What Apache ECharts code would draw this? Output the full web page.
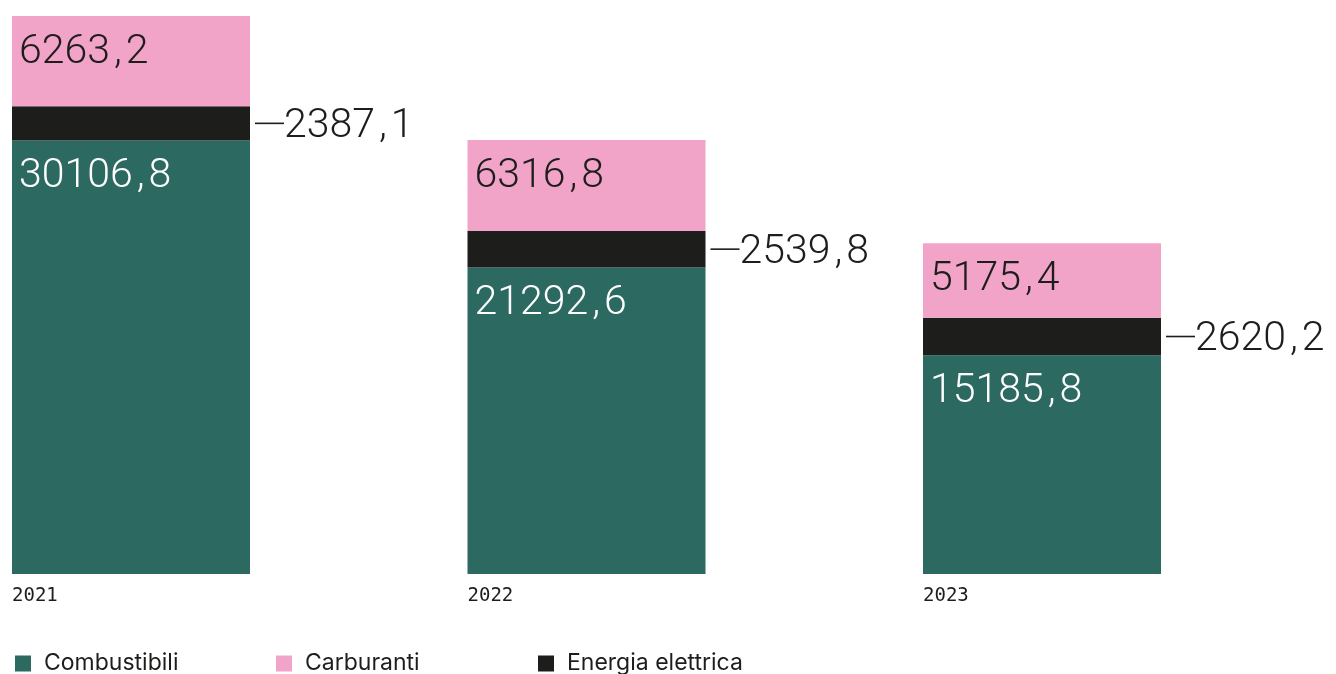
<!DOCTYPE html>
<html>
<head>
<meta charset="utf-8">
<style>
  html, body { margin: 0; padding: 0; background: #ffffff; }
  #chart { width: 1336px; height: 674px; }
</style>
<script src="https://cdn.jsdelivr.net/npm/echarts@6/dist/echarts.min.js"></script>
</head>
<body>
<div id="chart"></div>
<script>
// Consumi energetici per anno (valori impilati)
const years = ['2021', '2022', '2023'];
const combustibili = [30106.8, 21292.6, 15185.8];
const energiaElettrica = [2387.1, 2539.8, 2620.2];
const carburanti = [6263.2, 6316.8, 5175.4];
const seriesNames = ['Combustibili', 'Carburanti', 'Energia elettrica'];

const GREEN = '#2b6961';
const PINK = '#f2a3c8';
const BLACK = '#1d1d1b';
const NUM_FONT = 'Roboto, "Noto Sans", sans-serif';
const YEAR_FONT = '"DejaVu Sans Mono", monospace';
const TEXT_FONT = 'Inter, "Noto Sans", sans-serif';
const BAR_W = 238;

// Italian decimal comma, split so the comma can get its own spacing
const richNum = v => {
  const parts = v.toFixed(1).split('.');
  return '{d|' + parts[0] + '}{c|,}{d|' + parts[1] + '}';
};

const numRich = (color, padTop) => ({
  d: { fontFamily: NUM_FONT, fontSize: 41, fontWeight: 300, color: color, padding: [padTop, 0, 0, 0] },
  c: { fontFamily: NUM_FONT, fontSize: 41, fontWeight: 300, color: color, padding: [padTop, 4, 0, 4] }
});

const valueLabel = color => ({
  show: true,
  position: 'insideTopLeft',
  distance: 7,
  offset: [0, 9],
  formatter: p => richNum(p.value),
  rich: numRich(color, 0)
});

// one legend block per series so each entry sits in its own column
const legendLefts = [15, 276, 538];
const legends = seriesNames.map((name, i) => ({
  left: legendLefts[i],
  top: 652,
  padding: 0,
  itemWidth: 16,
  itemHeight: 16,
  icon: 'rect',
  textStyle: { fontFamily: TEXT_FONT, fontSize: 23, color: BLACK, padding: [0, 0, 0, 8] },
  data: [name]
}));

const chart = echarts.init(document.getElementById('chart'), null, { renderer: 'canvas' });

// leader line + value, digits nudged down so they sit centred on the line
const sideRich = numRich(BLACK, 7);
sideRich.l = { width: 29, height: 1.6, backgroundColor: BLACK, verticalAlign: 'middle' };

chart.setOption({
  backgroundColor: '#ffffff',
  animation: false,
  grid: { left: 131, right: 294, top: 16, bottom: 100, containLabel: false },
  legend: legends,
  xAxis: {
    type: 'category',
    data: years,
    boundaryGap: false,
    axisLine: { show: false },
    axisTick: { show: false },
    axisLabel: {
      margin: 13,
      formatter: v => '{y|' + v + '}',
      rich: {
        y: { width: BAR_W, align: 'left', fontFamily: YEAR_FONT, fontSize: 19, color: BLACK }
      }
    }
  },
  yAxis: {
    type: 'value',
    min: 0,
    max: 'dataMax',
    show: false,
    splitLine: { show: false }
  },
  series: [
    {
      name: 'Combustibili',
      type: 'bar',
      stack: 'tot',
      barWidth: BAR_W,
      itemStyle: { color: GREEN },
      label: valueLabel('#ffffff'),
      data: combustibili
    },
    {
      name: 'Energia elettrica',
      type: 'bar',
      stack: 'tot',
      barWidth: BAR_W,
      itemStyle: { color: BLACK },
      label: {
        show: true,
        position: 'right',
        distance: 5,
        formatter: p => '{l| }' + richNum(p.value),
        rich: sideRich
      },
      data: energiaElettrica
    },
    {
      name: 'Carburanti',
      type: 'bar',
      stack: 'tot',
      barWidth: BAR_W,
      itemStyle: { color: PINK },
      label: valueLabel(BLACK),
      data: carburanti
    }
  ]
});
</script>
</body>
</html>
